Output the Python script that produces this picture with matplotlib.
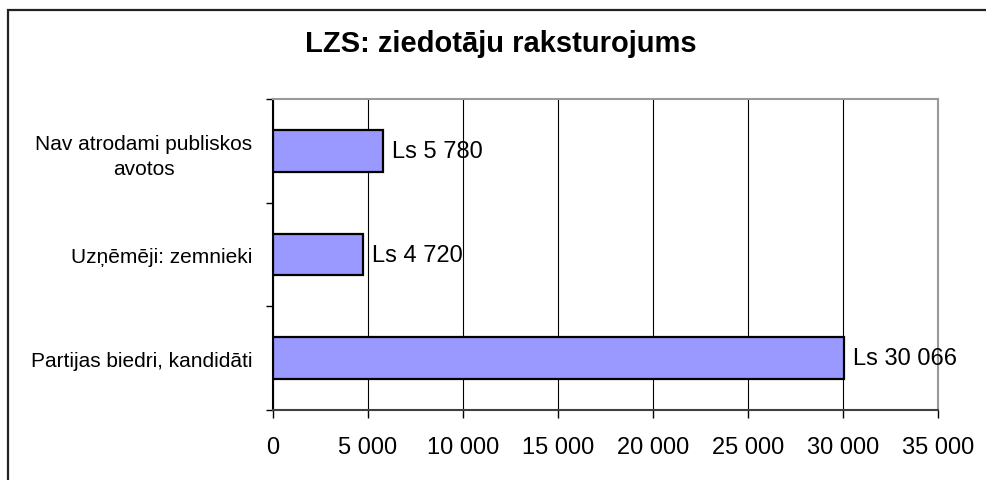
import matplotlib

matplotlib.use("Agg")
import matplotlib.pyplot as plt
from matplotlib.patches import Rectangle
from matplotlib.ticker import FuncFormatter

plt.rcParams["font.family"] = ["Liberation Sans", "DejaVu Sans"]

categories = ["Partijas biedri, kandidāti", "Uzņēmēji: zemnieki", "Nav atrodami publiskos\navotos"]
values = [30066, 4720, 5780]
value_labels = ["Ls 30 066", "Ls 4 720", "Ls 5 780"]
x_ticks = [0, 5000, 10000, 15000, 20000, 25000, 30000, 35000]

BAR = "#9999ff"

fig = plt.figure(figsize=(9.87, 4.81), dpi=100)
# outer chart frame (clipped at right and bottom like the original)
fig.patches.append(Rectangle((8 / 987, -0.05), 1.2, 1 - 11 / 481 + 0.05, transform=fig.transFigure,
                             fill=False, edgecolor="#222222", linewidth=1.6))

ax = fig.add_axes([273 / 987, 1 - 411 / 481, (938 - 273) / 987, (411 - 100) / 481])
y = range(len(categories))
ax.barh(y, values, height=0.4, color=BAR, edgecolor="black", linewidth=1.6, zorder=3)
for yi, v, lab in zip(y, values, value_labels):
    ax.text(v + 480, yi, lab, va="center", ha="left", fontsize=17, zorder=4)

ax.set_xlim(0, 35000)
ax.set_ylim(-0.5, 2.5)
ax.set_xticks(x_ticks)
ax.xaxis.set_major_formatter(FuncFormatter(lambda v, p: f"{int(v):,}".replace(",", " ")))
ax.set_yticks(list(y))
ax.set_yticklabels(categories, fontsize=15, ha="right", multialignment="center", linespacing=1.4)
ax.tick_params(axis="y", length=0, pad=15)
ax.set_yticks([-0.5, 0.5, 1.5, 2.5], minor=True)
ax.tick_params(axis="y", which="minor", length=5, width=1, color="black", direction="out")
ax.tick_params(axis="x", length=6, width=1, labelsize=17, pad=13)
ax.xaxis.grid(True, color="black", linewidth=0.8, zorder=0)

ax.spines["left"].set_color("black")
ax.spines["bottom"].set_color("#404040")
for s in ["top", "right"]:
    ax.spines[s].set_color("#999999")
for s in ax.spines.values():
    s.set_linewidth(1.5)

fig.text(501 / 987, 1 - 44 / 481, "LZS: ziedotāju raksturojums", ha="center", va="center",
         fontsize=21, weight="bold")

fig.savefig("out.png", dpi=100)
